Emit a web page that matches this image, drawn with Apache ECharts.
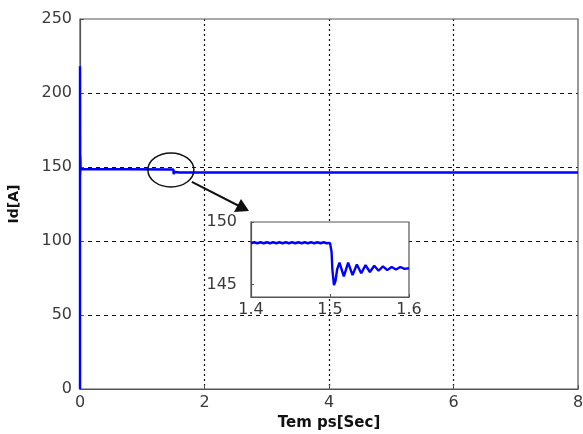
<!DOCTYPE html>
<html>
<head>
<meta charset="utf-8">
<script src="https://cdn.jsdelivr.net/npm/echarts@6/dist/echarts.min.js"></script>
<style>html,body{margin:0;padding:0;background:#fff}#c{width:583px;height:434px}</style>
</head>
<body>
<div id="c"></div>
<script>
// Main plot data (time in s, Id in A)
var mainT = [0, 0, 0.003, 0.006, 0.01, 0.02, 0.04, 1.5, 1.505, 1.52, 1.6, 8];
var mainV = [0, 218, 145, 157, 148.6, 148.3, 148.3, 148.3, 145.2, 146.6, 146.3, 146.3];
var xTicks = [0, 2, 4, 6, 8];
var yTicks = [0, 50, 100, 150, 200, 250];

// Inset zoom data
var insetT = [1.400,1.404,1.408,1.412,1.416,1.420,1.424,1.428,1.432,1.436,1.440,1.444,1.448,1.452,1.456,1.460,1.464,1.468,1.472,1.476,1.480,1.484,1.488,1.492,1.496,1.500,
              1.502,1.503,1.505,1.507,1.509,1.512,1.5175,1.523,1.5285,1.534,1.5395,1.545,1.5505,1.556,1.5615,1.567,1.5725,1.578,1.5835,1.589,1.5945,1.600];
var insetV = [148.3,148.38,148.3,148.38,148.3,148.38,148.3,148.38,148.3,148.38,148.3,148.38,148.3,148.38,148.3,148.38,148.3,148.38,148.3,148.38,148.3,148.38,148.3,148.38,148.3,148.33,
              147.6,146.2,144.95,145.3,146.2,146.75,145.65,146.75,145.75,146.6,145.9,146.55,146.0,146.5,146.1,146.45,146.15,146.4,146.2,146.4,146.25,146.3];
var insetXTicks = [1.4, 1.5, 1.6];
var insetYTicks = [145, 150];

function pairs(a, b) { return a.map(function (v, i) { return [v, b[i]]; }); }

var chart = echarts.init(document.getElementById('c'), null, {renderer: 'canvas'});
var FF = 'DejaVu Sans, Liberation Sans, sans-serif';
var lbl = {color: '#3a3a3a', fontSize: 16, fontFamily: FF};
var option = {
  animation: false,
  backgroundColor: '#fff',
  grid: [
    {left: 80, right: 5, top: 19, bottom: 45, show: true, outerBoundsMode: 'none', containLabel: false,
     borderColor: '#555', borderWidth: 1.2, backgroundColor: 'transparent', z: 1},
    {left: 251, top: 222, width: 158, height: 75, show: true, outerBoundsMode: 'none', containLabel: false,
     borderColor: '#555', borderWidth: 1.2, backgroundColor: '#fff', z: 10}
  ],
  xAxis: [
    {type: 'value', gridIndex: 0, min: 0, max: 8, interval: 2,
     name: 'Tem ps[Sec]', nameLocation: 'middle', nameGap: 25,
     nameTextStyle: {color: '#111', fontSize: 15, fontWeight: 'bold', fontFamily: FF},
     axisLine: {show: true, onZero: false, lineStyle: {color: '#555', width: 1.2}},
     axisTick: {show: true, inside: true, length: 4, lineStyle: {color: '#555'}},
     axisLabel: Object.assign({margin: 6, formatter: function (v) { return xTicks.indexOf(v) >= 0 ? String(v) : ''; }}, lbl),
     splitLine: {show: true, showMinLine: false, showMaxLine: false, lineStyle: {color: '#111', type: [2, 3], width: 1.2}}},
    {type: 'value', gridIndex: 1, min: 1.4, max: 1.6, z: 11,
     axisLine: {show: true, onZero: false, lineStyle: {color: '#555', width: 1.2}},
     axisTick: {show: true, inside: true, length: 3, customValues: insetXTicks, lineStyle: {color: '#555'}},
     axisLabel: Object.assign({margin: 5, customValues: insetXTicks, formatter: function (v) { return v.toFixed(1); }}, lbl),
     splitLine: {show: false}}
  ],
  yAxis: [
    {type: 'value', gridIndex: 0, min: 0, max: 250, interval: 50,
     name: 'Id[A]', nameLocation: 'middle', nameGap: 59, nameRotate: 90,
     nameTextStyle: {color: '#111', fontSize: 14, fontWeight: 'bold', fontFamily: FF},
     axisLine: {show: true, onZero: false, lineStyle: {color: '#555', width: 1.2}},
     axisTick: {show: true, inside: true, length: 4, lineStyle: {color: '#555'}},
     axisLabel: Object.assign({margin: 8, formatter: function (v) { return yTicks.indexOf(v) >= 0 ? String(v) : ''; }}, lbl),
     splitLine: {show: true, showMinLine: false, showMaxLine: false, lineStyle: {color: '#111', type: [4, 4], width: 1}}},
    {type: 'value', gridIndex: 1, min: 144, max: 150, z: 11,
     axisLine: {show: true, onZero: false, lineStyle: {color: '#555', width: 1.2}},
     axisTick: {show: true, inside: true, length: 3, customValues: insetYTicks, lineStyle: {color: '#555'}},
     axisLabel: Object.assign({margin: 14, customValues: insetYTicks}, lbl),
     splitLine: {show: false}}
  ],
  series: [
    {type: 'line', xAxisIndex: 0, yAxisIndex: 0, data: pairs(mainT, mainV), showSymbol: false,
     lineStyle: {color: '#0000ff', width: 2.4}, z: 3},
    {type: 'line', xAxisIndex: 1, yAxisIndex: 1, data: pairs(insetT, insetV), showSymbol: false,
     lineStyle: {color: '#0000ff', width: 2.4}, z: 12}
  ]
};
chart.setOption(option);

// annotation: ellipse around the step, arrow toward the inset
var c = chart.convertToPixel({gridIndex: 0}, [1.46, 148]);
var boxTL = chart.convertToPixel({gridIndex: 1}, [1.4, 150]);
chart.setOption({
  graphic: [
    {type: 'ellipse', shape: {cx: c[0], cy: c[1], rx: 23, ry: 17},
     style: {fill: 'none', stroke: '#111', lineWidth: 1.5}, z: 20},
    {type: 'line', shape: {x1: c[0] + 21, y1: c[1] + 12, x2: boxTL[0] - 8, y2: boxTL[1] - 14},
     style: {stroke: '#111', lineWidth: 2}, z: 20},
    {type: 'polygon', shape: {points: [
      [boxTL[0] - 2, boxTL[1] - 11],
      [boxTL[0] - 17, boxTL[1] - 10],
      [boxTL[0] - 10, boxTL[1] - 23]
    ]}, style: {fill: '#111'}, z: 20}
  ]
});
</script>
</body>
</html>
